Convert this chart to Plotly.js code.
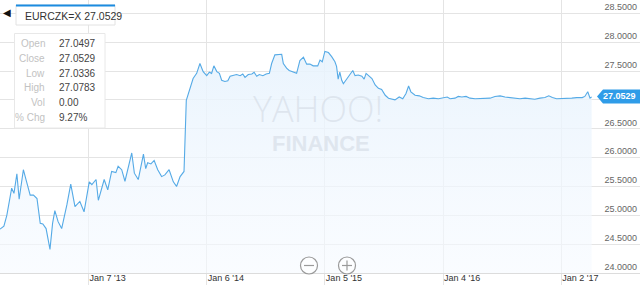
<!DOCTYPE html>
<html>
<head>
<meta charset="utf-8">
<script src="https://cdn.plot.ly/plotly-3.0.1.min.js"></script>
<style>html,body{margin:0;padding:0;background:#fff;}#chart{width:640px;height:285px;}</style>
</head>
<body>
<div id="chart"></div>
<script>
// Weekly-ish EUR/CZK closes
var dates = [
'2012-04-09','2012-04-21','2012-04-30','2012-05-15','2012-05-22','2012-05-31','2012-06-07','2012-06-20','2012-06-30','2012-07-11',
'2012-07-21','2012-08-01','2012-08-11','2012-08-19','2012-08-29','2012-09-10','2012-09-18','2012-09-25','2012-10-05','2012-10-16',
'2012-11-01','2012-11-13','2012-11-26','2012-12-11','2012-12-24','2013-01-09','2013-01-17','2013-01-30','2013-02-06','2013-02-24',
'2013-03-07','2013-03-19','2013-04-01','2013-04-08','2013-04-19','2013-04-29','2013-05-20','2013-05-28','2013-06-09','2013-06-25',
'2013-07-02','2013-07-08','2013-07-18','2013-07-28','2013-08-08','2013-08-20','2013-08-30','2013-09-12','2013-09-25','2013-10-05',
'2013-10-16','2013-10-28','2013-11-04','2013-11-15','2013-11-25','2013-12-06','2013-12-16','2013-12-26','2014-01-06','2014-01-14',
'2014-01-21','2014-01-28','2014-02-06','2014-02-14','2014-02-21','2014-03-03','2014-03-12','2014-03-19','2014-03-29','2014-04-08',
'2014-04-19','2014-04-27','2014-05-04','2014-05-14','2014-05-25','2014-06-01','2014-06-09','2014-06-17','2014-06-28','2014-07-08',
'2014-07-18','2014-07-25','2014-08-04','2014-08-14','2014-08-25','2014-08-30','2014-09-09','2014-09-17','2014-09-30','2014-10-10',
'2014-10-20','2014-10-31','2014-11-10','2014-11-20','2014-11-30','2014-12-14','2014-12-21','2014-12-28','2015-01-05','2015-01-16',
'2015-01-26','2015-02-05','2015-02-10','2015-02-15','2015-02-20','2015-02-26','2015-03-03','2015-03-13','2015-03-24','2015-04-01',
'2015-04-08','2015-04-18','2015-04-29','2015-05-06','2015-05-12','2015-05-21','2015-05-30','2015-06-09','2015-06-19','2015-06-29',
'2015-07-10','2015-07-20','2015-07-30','2015-08-09','2015-08-22','2015-09-02','2015-09-12','2015-09-20','2015-09-27','2015-10-10',
'2015-10-23','2015-11-04','2015-11-20','2015-12-05','2015-12-21','2016-01-05','2016-01-17','2016-01-26','2016-02-10','2016-02-20',
'2016-03-02','2016-03-15','2016-03-27','2016-04-12','2016-04-27','2016-05-12','2016-05-28','2016-06-12','2016-06-28','2016-07-13',
'2016-07-28','2016-08-13','2016-08-28','2016-09-13','2016-09-28','2016-10-13','2016-10-29','2016-11-13','2016-11-25','2016-12-06',
'2016-12-19','2017-01-04','2017-01-19','2017-02-04','2017-02-19','2017-03-08','2017-03-16','2017-03-25','2017-04-01','2017-04-06'
];
var closes = [
24.76,24.81,25.00,25.47,25.38,25.72,25.28,25.79,25.58,25.35,
25.35,25.29,24.86,24.85,24.77,24.41,24.86,25.08,24.89,24.77,
25.18,25.54,25.15,25.24,25.06,25.58,25.53,25.62,25.26,25.62,
25.44,25.76,25.74,25.85,25.79,25.59,26.08,25.73,25.62,26.06,
25.81,25.91,25.89,25.95,25.79,25.67,25.70,25.79,25.58,25.50,
25.67,25.76,26.99,27.17,27.37,27.46,27.63,27.49,27.42,27.48,
27.46,27.59,27.49,27.46,27.34,27.32,27.33,27.41,27.43,27.44,
27.42,27.45,27.39,27.44,27.45,27.48,27.41,27.44,27.42,27.45,
27.46,27.63,27.78,27.79,27.79,27.63,27.55,27.51,27.48,27.46,
27.68,27.74,27.62,27.62,27.59,27.59,27.69,27.66,27.84,27.82,
27.75,27.66,27.58,27.36,27.48,27.34,27.28,27.36,27.44,27.51,
27.42,27.43,27.41,27.36,27.46,27.42,27.37,27.26,27.20,27.18,
27.08,27.03,27.02,27.00,27.05,27.02,27.11,27.24,27.14,27.08,
27.07,27.04,27.02,27.03,27.02,27.03,27.05,27.02,27.03,27.06,
27.05,27.06,27.03,27.02,27.02,27.02,27.03,27.06,27.07,27.05,
27.04,27.03,27.02,27.03,27.02,27.01,27.03,27.04,27.07,27.04,
27.02,27.02,27.02,27.03,27.04,27.04,27.06,27.14,27.03,27.0529
];
var xTickVals = ['2013-01-07','2014-01-06','2015-01-05','2016-01-04','2017-01-02'];
var xTickText = ["Jan 7 '13","Jan 6 '14","Jan 5 '15","Jan 4 '16","Jan 2 '17"];
var yTickVals = [24,24.5,25,25.5,26,26.5,27,27.5,28,28.5];
var yTickText = ['24.0000','24.5000','25.0000','25.5000','26.0000','26.5000','','27.5000','28.0000','28.5000'];
var symbol = 'EURCZK=X';
var lastPrice = '27.0529';
var infoLabels = ['Open','Close','Low','High','Vol','% Chg'];
var infoValues = ['27.0497','27.0529','27.0336','27.0783','0.00','9.27%'];

var F = 'Liberation Sans, Arial, Helvetica, sans-serif';
var H = 273; // plot height in px for paper conversions
function py(p){ return (H - p) / H; }
function px(p){ return p / 640; }

var trace = {
  x: dates, y: closes, type: 'scatter', mode: 'lines',
  line: {color: '#55aae6', width: 1.1},
  fill: 'tozeroy',
  fillgradient: {type: 'vertical', start: 24, stop: 27.8,
    colorscale: [[0, 'rgba(246,250,255,0.6)'], [1, 'rgba(232,243,253,0.9)']]},
  hoverinfo: 'skip'
};

var annotations = [];
var shapes = [];

function ann(o){ o.xref='paper'; o.yref='paper'; o.showarrow=false; if(!o.yanchor) o.yanchor='middle'; if(!o.xanchor) o.xanchor='center'; annotations.push(o); }

// watermark
ann({x: px(318), y: py(108), text:'YAHOO!',
  font:{family:'Open Sans, Liberation Sans, sans-serif', size:36, color:'rgba(205,212,222,0.5)', weight:300}});
ann({x: px(321), y: py(143), text:'FINANCE',
  font:{family:'Liberation Sans, Arial, sans-serif', size:22, color:'rgba(205,212,222,0.5)', weight:700}});

// symbol box
shapes.push({type:'rect', xref:'paper', yref:'paper', x0:px(16), x1:px(115), y0:py(25), y1:py(5),
  line:{color:'#e2e2e2', width:1}, fillcolor:'#ffffff', layer:'above'});
shapes.push({type:'line', xref:'paper', yref:'paper', x0:px(16), x1:px(115), y0:py(5.5), y1:py(5.5),
  line:{color:'#1b8be0', width:2}, layer:'above'});
ann({x: px(23), y: py(16), xanchor:'left', text: symbol + ' ' + lastPrice,
  font:{family:F, size:10.5, color:'#333'}});
ann({x: px(1), y: py(12.5), xanchor:'left', text:'◀',
  font:{family:'DejaVu Sans', size:10, color:'#111'}});

// info box
shapes.push({type:'rect', xref:'paper', yref:'paper', x0:px(14.5), x1:px(105), y0:py(128), y1:py(33.5),
  line:{color:'#e8e8e8', width:1}, fillcolor:'#ffffff', layer:'above'});
var rowY = [44, 58.6, 73.2, 87.8, 102.4, 117];
for (var i = 0; i < infoLabels.length; i++) {
  ann({x: px(47), y: py(rowY[i]), xanchor:'right', text: infoLabels[i],
    font:{family:F, size:10, color:'#c2c2c2'}});
  ann({x: px(57), y: py(rowY[i]), xanchor:'left', text: infoValues[i],
    font:{family:F, size:10, color:'#444'}});
}

// price tag
shapes.push({type:'path', xref:'paper', yref:'paper',
  path: 'M '+px(597)+','+py(96.5)+' L '+px(603)+','+py(89.5)+' L 1,'+py(89.5)+' L 1,'+py(103.5)+' L '+px(603)+','+py(103.5)+' Z',
  fillcolor:'#2f9ce8', line:{width:0}, layer:'above'});
ann({x: px(638), y: py(96.5), xanchor:'right', text:'<b>'+lastPrice+'</b>',
  font:{family:F, size:9, color:'#ffffff'}});

// zoom buttons
[309, 347].forEach(function(cx, k){
  shapes.push({type:'circle', xref:'paper', yref:'paper', x0:px(cx-8.5), x1:px(cx+8.5), y0:py(274), y1:py(257),
    line:{color:'#9a9a9a', width:1.2}, fillcolor:'rgba(255,255,255,0.6)', layer:'above'});
  shapes.push({type:'line', xref:'paper', yref:'paper', x0:px(cx-5), x1:px(cx+5), y0:py(265.5), y1:py(265.5),
    line:{color:'#9a9a9a', width:1.2}, layer:'above'});
  if (k === 1) {
    shapes.push({type:'line', xref:'paper', yref:'paper', x0:px(cx), x1:px(cx), y0:py(270.5), y1:py(260.5),
      line:{color:'#9a9a9a', width:1.2}, layer:'above'});
  }
});

var layout = {
  width: 640, height: 285,
  margin: {l:0, r:0, t:0, b:12, pad:0},
  paper_bgcolor:'#ffffff', plot_bgcolor:'#ffffff',
  showlegend:false,
  xaxis: {
    type:'date', range:['2012-04-09','2017-09-02'],
    tickvals: xTickVals, ticktext: xTickText,
    ticklabelposition:'outside right',
    ticks:'outside', ticklen:12, tickcolor:'#e4e4e4', tickwidth:1,
    ticklabelstandoff:-4,
    showgrid:true, gridcolor:'#e4e4e4', gridwidth:1,
    showline:true, linecolor:'#dcdcdc', linewidth:1,
    zeroline:false, fixedrange:true,
    tickfont:{family:F, size:9, color:'#333'}
  },
  yaxis: {
    side:'right', range:[24, 28.731],
    tickvals: yTickVals, ticktext: yTickText,
    ticklabelposition:'inside top',
    ticks:'', showgrid:true, gridcolor:'#e4e4e4', gridwidth:1,
    zeroline:false, showline:false, fixedrange:true,
    tickfont:{family:F, size:9, color:'#666'}
  },
  shapes: shapes,
  annotations: annotations
};

Plotly.newPlot('chart', [trace], layout, {displayModeBar:false, staticPlot:true});
</script>
</body>
</html>
